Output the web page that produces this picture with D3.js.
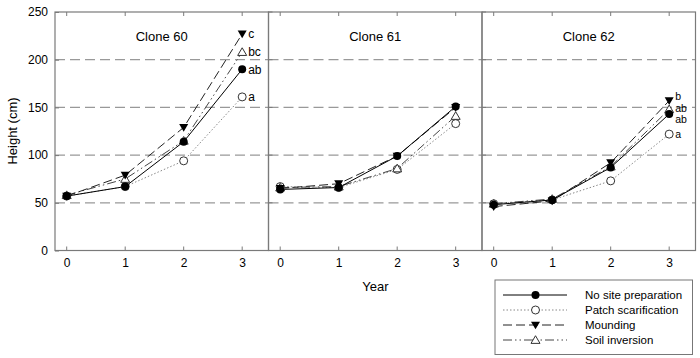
<!DOCTYPE html>
<html>
<head>
<meta charset="utf-8">
<script src="https://cdn.jsdelivr.net/npm/d3@7"></script>
<style>
  body { margin: 0; background: #fff; }
  svg { display: block; font-family: "Liberation Sans", Arial, sans-serif; }
</style>
</head>
<body>
<svg id="chart" width="700" height="358"></svg>
<script>
const years = [0, 1, 2, 3];
const clones = ["Clone 60", "Clone 61", "Clone 62"];
const seriesNames = ["No site preparation", "Patch scarification", "Mounding", "Soil inversion"];
const yTicks = [0, 50, 100, 150, 200, 250];
const gridValues = [50, 100, 150, 200];

const noSite60 = [57, 67, 114, 190];
const patch60 = [57, 67, 94, 161];
const mound60 = [57, 79, 129, 227];
const soil60 = [58, 75, 115, 208];

const noSite61 = [64, 66, 99, 151];
const patch61 = [67, 66, 85, 133];
const mound61 = [65, 70, 99, 150];
const soil61 = [66, 67, 86, 141];

const noSite62 = [48, 53, 87, 143];
const patch62 = [49, 53, 73, 122];
const mound62 = [46, 52, 92, 157];
const soil62 = [49, 54, 88, 148];

const letters60 = ["ab", "a", "c", "bc"];
const letters61 = ["", "", "", ""];
const letters62 = ["ab", "a", "b", "ab"];

const data = [
  [noSite60, patch60, mound60, soil60],
  [noSite61, patch61, mound61, soil61],
  [noSite62, patch62, mound62, soil62]
];
const letters = [letters60, letters61, letters62];

const svg = d3.select("#chart");
const plotTop = 12, plotBottom = 250.5;
const panelLefts = [55, 268.5, 482];
const panelW = 213.5;
const axisColor = "#7a7a7a";

const y = d3.scaleLinear().domain([0, 250]).range([plotBottom, plotTop]);

const styles = [
  { dash: null, color: "#000", width: 1 },
  { dash: "1.5,2", color: "#888", width: 1 },
  { dash: "9,4", color: "#222", width: 1 },
  { dash: "9,3,1.5,3,1.5,3", color: "#444", width: 1 }
];

function drawMarker(g, type, cx, cy) {
  if (type === 0) {
    g.append("circle").attr("cx", cx).attr("cy", cy).attr("r", 4).attr("fill", "#000");
  } else if (type === 1) {
    g.append("circle").attr("cx", cx).attr("cy", cy).attr("r", 4).attr("fill", "#fff").attr("stroke", "#333").attr("stroke-width", 1);
  } else if (type === 2) {
    const s = 4.5;
    g.append("path").attr("d", `M${cx - s},${cy - s * 0.75}L${cx + s},${cy - s * 0.75}L${cx},${cy + s * 0.95}Z`).attr("fill", "#000");
  } else {
    const s = 4.5;
    g.append("path").attr("d", `M${cx - s},${cy + s * 0.75}L${cx + s},${cy + s * 0.75}L${cx},${cy - s * 0.95}Z`).attr("fill", "#fff").attr("stroke", "#333").attr("stroke-width", 1);
  }
}

clones.forEach((clone, ci) => {
  const left = panelLefts[ci];
  const x = d3.scaleLinear().domain([-0.2, 3.45]).range([left, left + panelW]);
  const g = svg.append("g");

  g.selectAll(".grid").data(gridValues).enter().append("line")
    .attr("x1", left).attr("x2", left + panelW)
    .attr("y1", d => y(d)).attr("y2", d => y(d))
    .attr("stroke", "#999").attr("stroke-width", 1.2).attr("stroke-dasharray", "10,5");

  g.append("rect").attr("x", left).attr("y", plotTop).attr("width", panelW).attr("height", plotBottom - plotTop)
    .attr("fill", "none").attr("stroke", axisColor).attr("stroke-width", 1.2);

  years.forEach(yr => {
    g.append("line").attr("x1", x(yr)).attr("x2", x(yr)).attr("y1", plotBottom).attr("y2", plotBottom - 4).attr("stroke", axisColor);
    g.append("line").attr("x1", x(yr)).attr("x2", x(yr)).attr("y1", plotTop).attr("y2", plotTop + 4).attr("stroke", axisColor);
  });
  const xAxis = d3.axisBottom(x).tickValues(years).tickSize(0).tickPadding(8).tickFormat(d3.format("d"));
  const xg = g.append("g").attr("transform", `translate(0,${plotBottom})`).call(xAxis);
  xg.select(".domain").remove();
  xg.selectAll("text").attr("font-size", 12).attr("fill", "#000").attr("font-family", "Liberation Sans, Arial, sans-serif");

  if (ci === 0) {
    const yAxis = d3.axisLeft(y).tickValues(yTicks).tickSizeInner(-4).tickSizeOuter(0).tickPadding(7);
    const yg = g.append("g").attr("transform", `translate(${left},0)`).call(yAxis);
    yg.select(".domain").remove();
    yg.selectAll("line").attr("stroke", axisColor);
    yg.selectAll("text").attr("font-size", 12).attr("fill", "#000").attr("font-family", "Liberation Sans, Arial, sans-serif");
  } else {
    yTicks.forEach(v => {
      g.append("line").attr("x1", left).attr("x2", left + 4).attr("y1", y(v)).attr("y2", y(v)).attr("stroke", axisColor);
    });
  }

  g.append("text").attr("x", left + panelW / 2).attr("y", 41).attr("text-anchor", "middle")
    .attr("font-size", 13).text(clone);

  const line = d3.line().x((d, i) => x(years[i])).y(d => y(d));
  const order = [1, 3, 2, 0];
  order.forEach(si => {
    g.append("path").datum(data[ci][si]).attr("d", line)
      .attr("fill", "none").attr("stroke", styles[si].color).attr("stroke-width", styles[si].width)
      .attr("stroke-dasharray", styles[si].dash);
  });
  order.forEach(si => {
    data[ci][si].forEach((v, i) => drawMarker(g, si, x(years[i]), y(v)));
  });

  letters[ci].forEach((lt, si) => {
    if (!lt) return;
    let yy = y(data[ci][si][3]);
    let fs = 12;
    if (ci === 2) {
      fs = 10.5;
      if (si === 2) yy -= 4.5;
      if (si === 3) yy -= 1.5;
      if (si === 0) yy += 5.5;
    }
    g.append("text").attr("x", x(3) + 6).attr("y", yy + fs * 0.36).attr("font-size", fs).text(lt);
  });
});

svg.append("text").attr("x", 375.5).attr("y", 291).attr("text-anchor", "middle").attr("font-size", 13).text("Year");
svg.append("text").attr("transform", "translate(17,131) rotate(-90)").attr("text-anchor", "middle").attr("font-size", 13).text("Height (cm)");

const lg = svg.append("g");
lg.append("rect").attr("x", 495).attr("y", 280).attr("width", 197.5).attr("height", 74.5)
  .attr("fill", "#fff").attr("stroke", "#777").attr("stroke-width", 1);
seriesNames.forEach((name, si) => {
  const cy = 295 + si * 15;
  lg.append("line").attr("x1", 503).attr("x2", 567).attr("y1", cy).attr("y2", cy)
    .attr("stroke", styles[si].color).attr("stroke-width", styles[si].width)
    .attr("stroke-dasharray", styles[si].dash);
  drawMarker(lg, si, 535.5, cy);
  lg.append("text").attr("x", 585).attr("y", cy + 4.2).attr("font-size", 11.5).text(name);
});
</script>
</body>
</html>
